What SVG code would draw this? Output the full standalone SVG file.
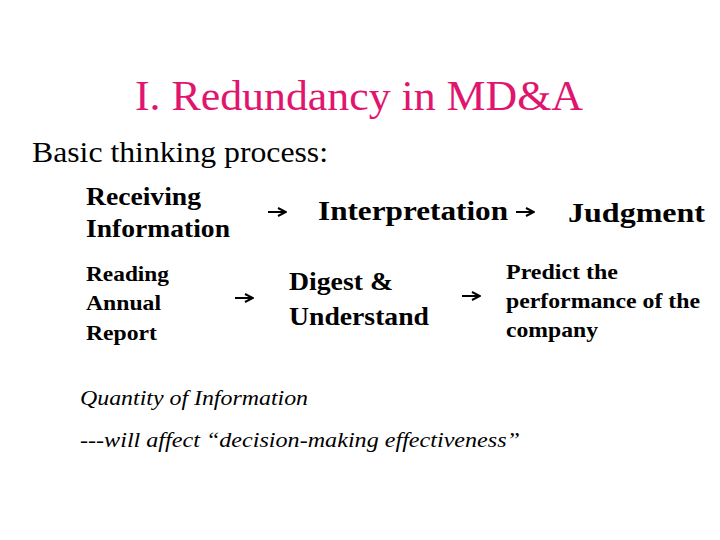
<svg xmlns="http://www.w3.org/2000/svg" width="720" height="540" viewBox="0 0 720 540">
<style>
text{font-family:"Liberation Serif",serif;fill:#000}
.b{font-weight:bold}
.i{font-style:italic;font-size:22px}
.c{stroke:#000;stroke-width:2;fill:none}
</style>
<defs><marker id="ah" viewBox="0 0 10 10" refX="9" refY="5" markerWidth="5" markerHeight="5" orient="auto"><path d="M1,1 L9,5 L1,9" fill="none" stroke="#000" stroke-width="2"/></marker></defs>
<rect width="720" height="540" fill="#fff"/>
<text x="135" y="110" font-size="42" textLength="448" lengthAdjust="spacingAndGlyphs" style="fill:#e0166e">I. Redundancy in MD&amp;A</text>
<text x="32" y="162" font-size="30" textLength="296" lengthAdjust="spacingAndGlyphs">Basic thinking process:</text>
<g id="n1"><text class="b" x="86" y="205" font-size="25" textLength="115" lengthAdjust="spacingAndGlyphs">Receiving</text><text class="b" x="86" y="237" font-size="25" textLength="144" lengthAdjust="spacingAndGlyphs">Information</text></g>
<g id="n2"><text class="b" x="318" y="220" font-size="27" textLength="190" lengthAdjust="spacingAndGlyphs">Interpretation</text></g>
<g id="n3"><text class="b" x="568" y="222" font-size="27" textLength="137" lengthAdjust="spacingAndGlyphs">Judgment</text></g>
<g id="n4"><text class="b" x="86" y="281" font-size="21" textLength="83" lengthAdjust="spacingAndGlyphs">Reading</text><text class="b" x="86" y="310" font-size="21" textLength="75" lengthAdjust="spacingAndGlyphs">Annual</text><text class="b" x="86" y="340" font-size="21" textLength="71" lengthAdjust="spacingAndGlyphs">Report</text></g>
<g id="n5"><text class="b" x="289" y="290" font-size="25" textLength="104" lengthAdjust="spacingAndGlyphs">Digest &amp;</text><text class="b" x="289" y="325" font-size="25" textLength="140" lengthAdjust="spacingAndGlyphs">Understand</text></g>
<g id="n6"><text class="b" x="506" y="279" font-size="21" textLength="112" lengthAdjust="spacingAndGlyphs">Predict the</text><text class="b" x="506" y="308" font-size="21" textLength="194" lengthAdjust="spacingAndGlyphs">performance of the</text><text class="b" x="506" y="337" font-size="21" textLength="92" lengthAdjust="spacingAndGlyphs">company</text></g>
<g id="connectors">
<line class="c" x1="268" y1="212" x2="286" y2="212" marker-end="url(#ah)"/>
<line class="c" x1="516" y1="212" x2="534" y2="212" marker-end="url(#ah)"/>
<line class="c" x1="235" y1="298" x2="253" y2="298" marker-end="url(#ah)"/>
<line class="c" x1="462" y1="296" x2="480" y2="296" marker-end="url(#ah)"/>
</g>
<text class="i" x="80" y="405" textLength="228" lengthAdjust="spacingAndGlyphs">Quantity of Information</text>
<text class="i" x="80" y="447" textLength="440" lengthAdjust="spacingAndGlyphs">---will affect “decision-making effectiveness”</text>
</svg>
